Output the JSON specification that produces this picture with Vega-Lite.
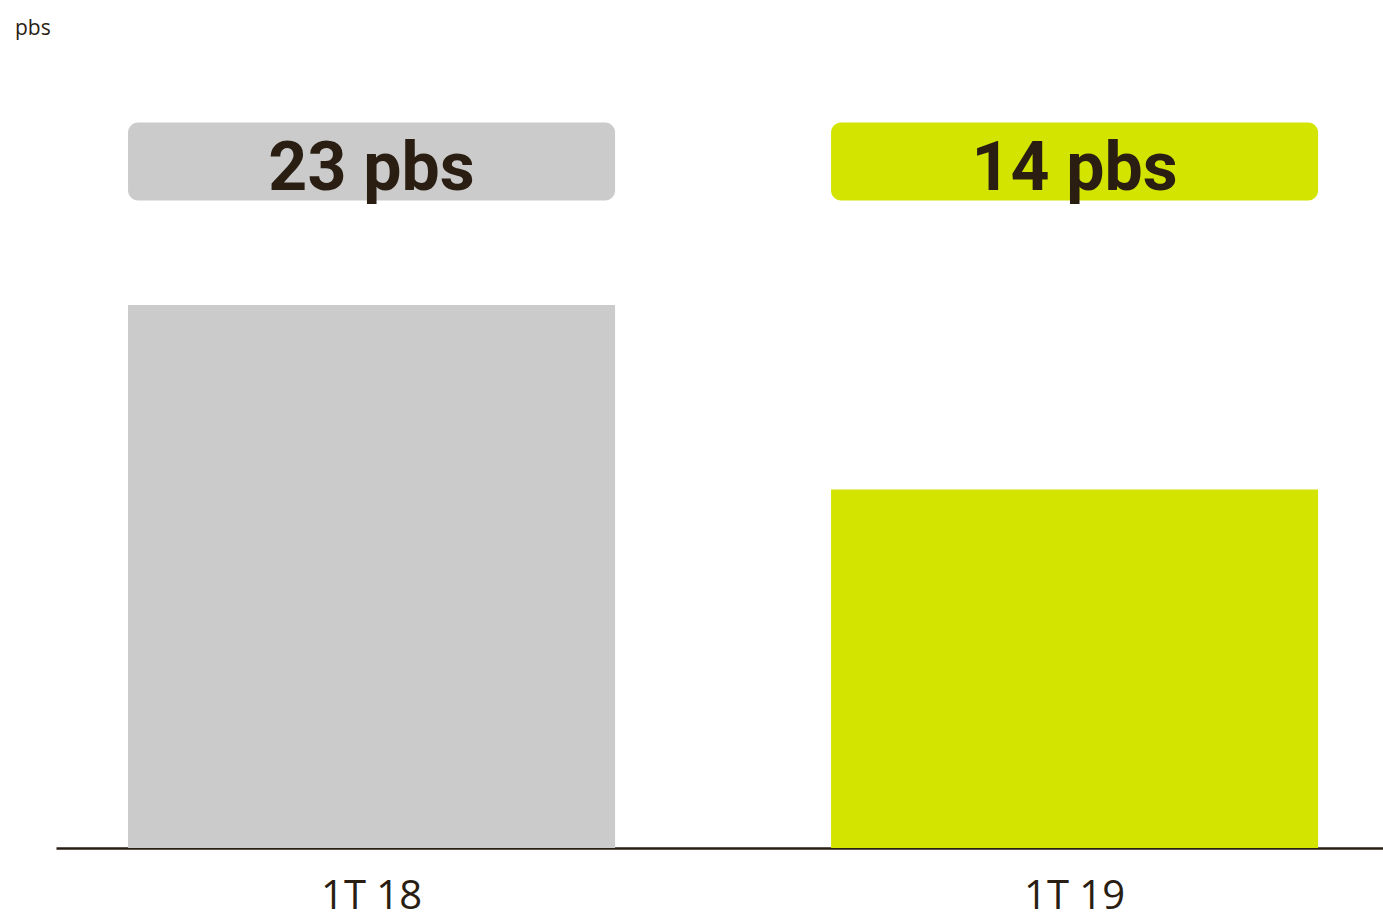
{
  "$schema": "https://vega.github.io/schema/vega-lite/v6.json",
  "width": 1327,
  "height": 798,
  "autosize": "none",
  "padding": {"left": 56, "top": 50, "right": 0, "bottom": 65},
  "background": "white",
  "title": {
    "text": "pbs",
    "anchor": "start",
    "frame": "group",
    "dx": -41,
    "dy": 23,
    "offset": 17,
    "baseline": "alphabetic",
    "font": "Open Sans",
    "fontSize": 21,
    "fontWeight": "normal",
    "color": "#2a1e13"
  },
  "data": {
    "values": [
      {"period": "1T 18", "value": 23, "label": "23 pbs"},
      {"period": "1T 19", "value": 14, "label": "14 pbs"}
    ]
  },
  "encoding": {
    "x": {
      "field": "period",
      "type": "nominal",
      "sort": null,
      "scale": {"paddingInner": 0.30725, "paddingOuter": 0.0974, "align": 0.526},
      "axis": {
        "title": null,
        "ticks": false,
        "labelAngle": 0,
        "labelFont": "Open Sans",
        "labelFontSize": 40,
        "labelColor": "#2a1e13",
        "labelBaseline": "alphabetic",
        "labelPadding": 60,
        "domainColor": "#2a1e13",
        "domainWidth": 2.5
      }
    },
    "color": {
      "field": "period",
      "type": "nominal",
      "scale": {"domain": ["1T 18", "1T 19"], "range": ["#cbcbcb", "#d2e400"]},
      "legend": null
    }
  },
  "layer": [
    {
      "mark": {"type": "bar"},
      "encoding": {
        "y": {"field": "value", "type": "quantitative", "scale": {"domain": [-3.5, 35.45], "nice": false, "zero": false}, "axis": null},
        "y2": {"datum": -3.5}
      }
    },
    {
      "mark": {"type": "bar", "cornerRadius": 10},
      "encoding": {
        "y": {"datum": 31.91, "type": "quantitative"},
        "y2": {"datum": 28.1}
      }
    },
    {
      "mark": {"type": "text", "font": "Roboto", "fontWeight": "bold", "fontSize": 68, "baseline": "alphabetic", "align": "center", "color": "#2a1e13"},
      "encoding": {
        "y": {"datum": 28.6, "type": "quantitative"},
        "text": {"field": "label"},
        "color": {"value": "#2a1e13"}
      }
    }
  ],
  "config": {
    "view": {"stroke": null}
  }
}
